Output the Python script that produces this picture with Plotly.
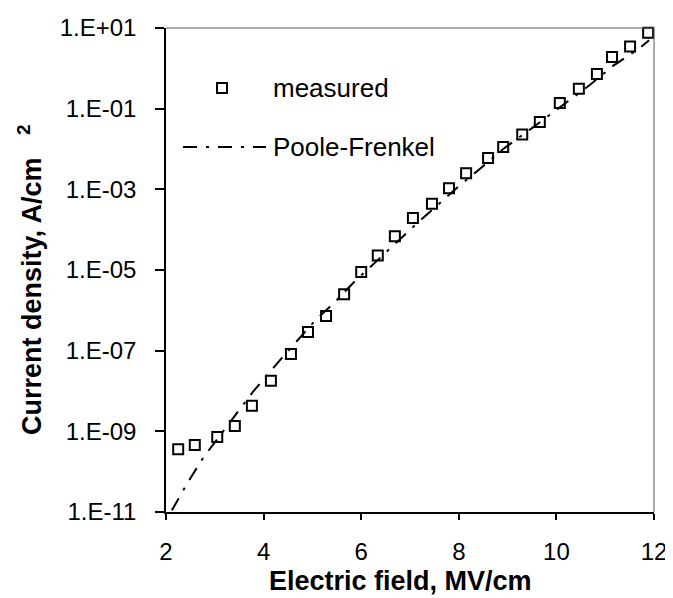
import plotly.graph_objects as go

# Measured data (Electric field MV/cm, current density A/cm^2)
meas_E = [2.25, 2.59, 3.05, 3.41, 3.76, 4.15, 4.56, 4.91, 5.28, 5.65, 6.00, 6.34, 6.69,
          7.06, 7.45, 7.80, 8.15, 8.60, 8.91, 9.30, 9.66, 10.07, 10.46, 10.83, 11.14,
          11.51, 11.88]
meas_J = [3.6e-10, 4.6e-10, 7.2e-10, 1.35e-9, 4.3e-9, 1.8e-8, 8.3e-8, 2.9e-7, 7.2e-7,
          2.5e-6, 8.9e-6, 2.3e-5, 6.9e-5, 1.95e-4, 4.4e-4, 1.07e-3, 2.5e-3, 6.0e-3,
          1.12e-2, 2.3e-2, 4.7e-2, 0.138, 0.31, 0.72, 1.9, 3.5, 7.6]

# Poole-Frenkel fit curve
pf_E = [2.12, 2.45, 2.76, 3.15, 3.48, 3.78, 4.34, 4.75, 5.05, 5.46, 5.83, 6.18, 6.53,
        6.90, 7.20, 7.68, 8.00, 8.43, 8.91, 9.50, 9.91, 10.69, 11.16, 11.47, 11.71, 11.90]
pf_J = [1.1e-11, 5.5e-11, 2.2e-10, 9.1e-10, 3.0e-9, 9.5e-9, 5.9e-8, 2.2e-7, 5.5e-7,
        1.6e-6, 4.7e-6, 1.17e-5, 2.95e-5, 7.9e-5, 1.66e-4, 5.4e-4, 1.2e-3, 3.2e-3,
        1.0e-2, 3.3e-2, 7.8e-2, 0.39, 1.15, 2.0, 3.2, 5.0]

x_ticks = [2, 4, 6, 8, 10, 12]
y_ticks = [1e-11, 1e-9, 1e-7, 1e-5, 1e-3, 1e-1, 1e1]
y_ticktext = ["1.E-11", "1.E-09", "1.E-07", "1.E-05", "1.E-03", "1.E-01", "1.E+01"]

FONT = "Liberation Sans, Arial, sans-serif"
DASH = "14px,9px,3px,9px"

# plot area in page pixels: x 166..654, y 28..512 (page has 8px body offset)
L, R, T, B = 166, 654, 28, 512
PW, PH = R - L, B - T


def px(x):
    return (x - L) / PW


def py(y):
    return (B - y) / PH


fig = go.Figure()
fig.add_trace(go.Scatter(x=pf_E, y=pf_J, mode="lines", name="Poole-Frenkel",
                         line=dict(color="black", width=2, dash=DASH),
                         cliponaxis=False, showlegend=False))
fig.add_trace(go.Scatter(x=meas_E, y=meas_J, mode="markers", name="measured",
                         marker=dict(symbol="square-open", size=10, color="black",
                                     line=dict(width=2, color="black")),
                         cliponaxis=False, showlegend=False))

fig.update_layout(
    width=673, height=598,
    margin=dict(l=L - 8, r=673 + 8 - R, t=T - 8, b=598 + 8 - B),
    paper_bgcolor="white", plot_bgcolor="white",
    font=dict(family=FONT, size=24, color="black"),
    showlegend=False,
)
fig.update_xaxes(range=[2, 12], tickvals=x_ticks, ticks="outside", ticklen=6,
                 tickwidth=1.5, tickcolor="black", showline=True, linecolor="black",
                 linewidth=1.5, showgrid=False, zeroline=False, automargin=False,
                 tickfont=dict(size=24), ticklabelstandoff=11)
fig.update_yaxes(type="log", range=[-11, 1], tickvals=y_ticks, ticktext=y_ticktext,
                 ticks="outside", ticklen=9, tickwidth=1.5, tickcolor="black",
                 showline=True, linecolor="black", linewidth=1.5, showgrid=False,
                 zeroline=False, automargin=False, tickfont=dict(size=24),
                 ticklabelstandoff=14)

# top and right frame
fig.add_shape(type="line", xref="paper", yref="paper", x0=0, x1=1, y0=1, y1=1,
              line=dict(color="#555555", width=1))
fig.add_shape(type="line", xref="paper", yref="paper", x0=1, x1=1, y0=0, y1=1,
              line=dict(color="#555555", width=1))

# legend (manual)
fig.add_shape(type="rect", xref="paper", yref="paper",
              x0=px(217), x1=px(227), y0=py(93), y1=py(83),
              line=dict(color="black", width=2))
fig.add_shape(type="line", xref="paper", yref="paper",
              x0=px(183), x1=px(266), y0=py(147), y1=py(147),
              line=dict(color="black", width=2, dash=DASH))
fig.add_annotation(text="measured", xref="paper", yref="paper",
                   x=px(271), y=py(88), xanchor="left",
                   yanchor="middle", showarrow=False, font=dict(size=26))
fig.add_annotation(text="Poole-Frenkel", xref="paper", yref="paper",
                   x=px(271), y=py(147), xanchor="left",
                   yanchor="middle", showarrow=False, font=dict(size=26))

# axis titles
fig.add_annotation(text="<b>Electric field, MV/cm</b>", xref="paper", yref="paper",
                   x=px(400), y=py(581), xanchor="center",
                   yanchor="middle", showarrow=False, font=dict(size=27))
fig.add_annotation(text="<b>Current density, A/cm   <sup>2</sup></b>", xref="paper",
                   yref="paper", x=px(30), y=py(280),
                   xanchor="center", yanchor="middle", textangle=-90,
                   showarrow=False, font=dict(size=27))

fig.write_html("out.html")
